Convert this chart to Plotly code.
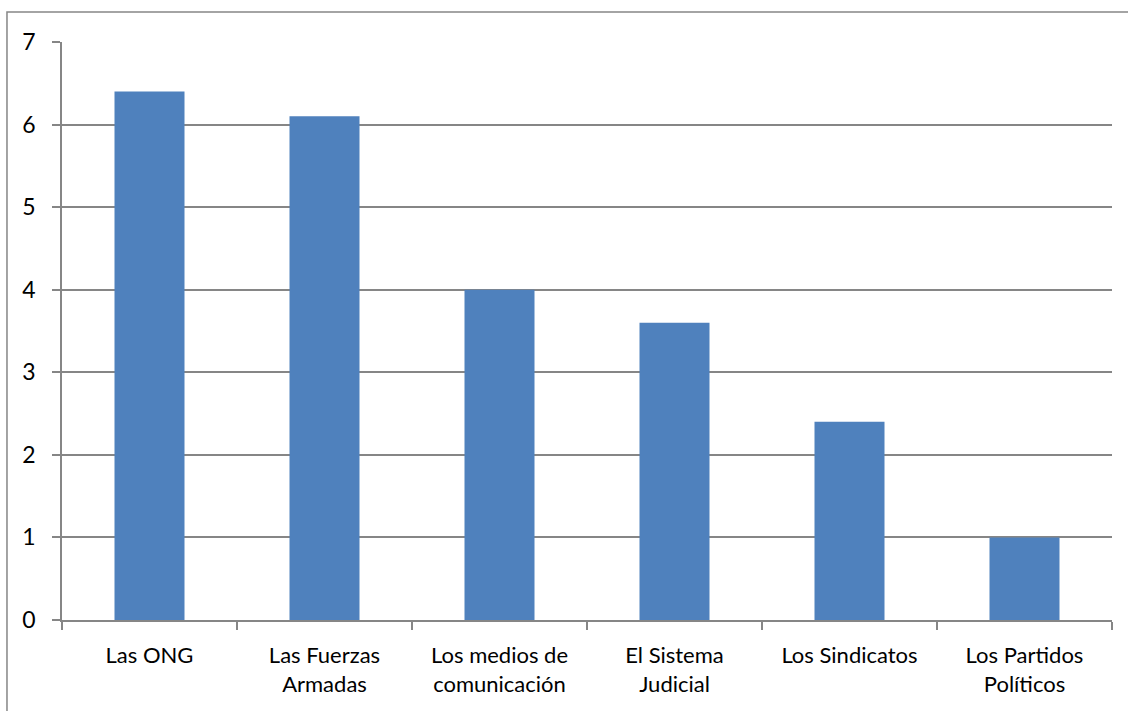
import plotly.graph_objects as go

categories = [
    "Las ONG",
    "Las Fuerzas<br>Armadas",
    "Los medios de<br>comunicación",
    "El Sistema<br>Judicial",
    "Los Sindicatos",
    "Los Partidos<br>Políticos",
]
values = [6.4, 6.1, 4.0, 3.6, 2.4, 1.0]
y_ticks = [0, 1, 2, 3, 4, 5, 6, 7]

axis_gray = "#868686"
font_family = "Lato, 'Open Sans', sans-serif"

fig = go.Figure(
    go.Bar(
        x=categories,
        y=values,
        marker=dict(color="#4F81BD", line=dict(width=0)),
        hoverinfo="x+y",
    )
)

fig.update_layout(
    width=1128,
    height=711,
    margin=dict(l=62, r=16, t=42, b=91),
    paper_bgcolor="white",
    plot_bgcolor="white",
    bargap=0.6,
    showlegend=False,
    font=dict(family=font_family, size=22, color="black"),
    shapes=[
        # outer chart frame
        dict(
            type="rect",
            xref="paper",
            yref="paper",
            x0=-0.0524,
            x1=1.2,
            y0=-0.5,
            y1=1.052,
            line=dict(color=axis_gray, width=1.5),
            fillcolor="rgba(0,0,0,0)",
            layer="below",
        )
    ],
)

fig.update_xaxes(
    type="category",
    showgrid=False,
    showline=True,
    linecolor=axis_gray,
    linewidth=2,
    ticks="outside",
    tickson="boundaries",
    ticklen=8,
    tickcolor=axis_gray,
    tickwidth=1.5,
    ticklabelstandoff=15,
    tickfont=dict(size=22),
    fixedrange=True,
)

fig.update_yaxes(
    range=[0, 7],
    tickvals=y_ticks,
    showgrid=True,
    gridcolor=axis_gray,
    gridwidth=1.5,
    showline=True,
    linecolor=axis_gray,
    linewidth=1.5,
    ticks="outside",
    ticklen=8,
    tickcolor=axis_gray,
    tickwidth=1.5,
    ticklabelstandoff=12,
    tickfont=dict(size=23),
    zeroline=False,
    fixedrange=True,
)

fig.write_html("out.html")
